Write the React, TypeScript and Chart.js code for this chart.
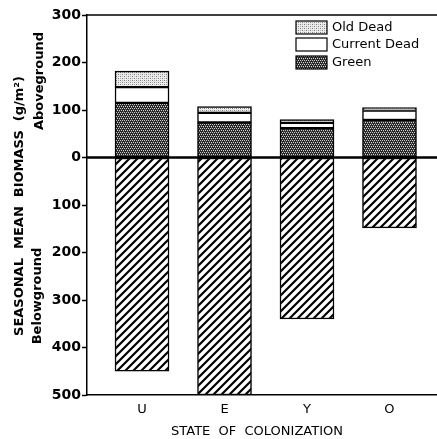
import React, { useEffect, useRef } from 'react';
import { Chart, registerables } from 'chart.js';

Chart.register(...registerables);

const categories = ['U', 'E', 'Y', 'O'];
const green = [115, 74, 62, 79];
const currentDead = [33, 20, 11, 20];
const oldDead = [34, 13, 7, 6];
const belowground = [-450, -500, -340, -148];
const legendOrder = ['Old Dead', 'Current Dead', 'Green'];
const yTitle = 'SEASONAL  MEAN  BIOMASS  (g/m²)';
const xTitle = 'STATE  OF  COLONIZATION';

function makePattern(kind: string): CanvasPattern | string {
  const c = document.createElement('canvas');
  const size = kind === 'hatch' ? 8 : 4;
  c.width = size;
  c.height = size;
  const g = c.getContext('2d')!;
  if (kind === 'green') {
    g.fillStyle = '#262626';
    g.fillRect(0, 0, 4, 4);
    g.fillStyle = '#d0d0d0';
    g.fillRect(0, 0, 1, 1);
    g.fillRect(2, 0, 1, 1);
    g.fillRect(1, 2, 1, 1);
    g.fillRect(3, 2, 1, 1);
    g.fillStyle = '#5a5a5a';
    g.fillRect(1, 1, 1, 1);
    g.fillRect(3, 3, 1, 1);
  } else if (kind === 'old') {
    g.fillStyle = '#ececec';
    g.fillRect(0, 0, 4, 4);
    g.fillStyle = '#7a7a7a';
    g.fillRect(0, 0, 1, 1);
    g.fillRect(2, 2, 1, 1);
    g.fillStyle = '#b0b0b0';
    g.fillRect(2, 0, 1, 1);
    g.fillRect(0, 2, 1, 1);
  } else if (kind === 'hatch') {
    g.fillStyle = '#fff';
    g.fillRect(0, 0, 8, 8);
    g.strokeStyle = '#000';
    g.lineWidth = 2.2;
    g.beginPath();
    g.moveTo(-2, 10); g.lineTo(10, -2);
    g.moveTo(-6, 6); g.lineTo(6, -6);
    g.moveTo(2, 14); g.lineTo(14, 2);
    g.stroke();
  }
  const p = g.createPattern(c, 'repeat');
  return p || '#888';
}

export default function App() {
  const ref = useRef<HTMLCanvasElement>(null);

  useEffect(() => {
    document.body.style.margin = '0';
    const pGreen = makePattern('green');
    const pOld = makePattern('old');
    const pHatch = makePattern('hatch');
    const fills: Record<string, any> = { 'Old Dead': pOld, 'Current Dead': '#fff', Green: pGreen };

    const pts = (arr: number[]) => arr.map((v, i) => ({ x: i, y: v }));

    const decor = {
      id: 'decor',
      afterDatasetsDraw(chart: any) {
        const { ctx, chartArea: a, scales } = chart;
        const y0 = scales.y.getPixelForValue(0);
        ctx.save();
        ctx.strokeStyle = '#000';
        ctx.lineWidth = 2.5;
        ctx.beginPath();
        ctx.moveTo(a.left, y0);
        ctx.lineTo(a.right, y0);
        ctx.stroke();
        ctx.lineWidth = 1.5;
        ctx.beginPath();
        ctx.moveTo(a.left, a.top);
        ctx.lineTo(a.right, a.top);
        ctx.stroke();

        // legend
        ctx.font = '13px "DejaVu Sans"';
        ctx.textBaseline = 'middle';
        ctx.textAlign = 'left';
        const rows = [21, 38, 56];
        legendOrder.forEach((name, i) => {
          const top = rows[i];
          ctx.fillStyle = fills[name];
          ctx.fillRect(296, top, 31, 13);
          ctx.lineWidth = 1.2;
          ctx.strokeRect(296, top, 31, 13);
          ctx.fillStyle = '#000';
          ctx.fillText(name, 332, top + 7);
        });

        // y titles
        ctx.fillStyle = '#000';
        ctx.textAlign = 'center';
        ctx.save();
        ctx.translate(20, 206);
        ctx.rotate(-Math.PI / 2);
        ctx.font = 'bold 13px "DejaVu Sans"';
        ctx.fillText(yTitle, 0, 0);
        ctx.restore();
        ctx.save();
        ctx.translate(40, 81);
        ctx.rotate(-Math.PI / 2);
        ctx.font = 'bold 13px "DejaVu Sans"';
        ctx.fillText('Aboveground', 0, 0);
        ctx.restore();
        ctx.save();
        ctx.translate(38, 296);
        ctx.rotate(-Math.PI / 2);
        ctx.font = 'bold 13px "DejaVu Sans"';
        ctx.fillText('Belowground', 0, 0);
        ctx.restore();

        // x title
        ctx.font = '13px "DejaVu Sans"';
        ctx.fillText(xTitle, 257, 432);
        ctx.restore();
      },
    };

    const common = { borderColor: '#000', borderWidth: 1.5, borderSkipped: false as const, barThickness: 54 };

    const chart = new Chart(ref.current!, {
      type: 'bar',
      data: {
        datasets: [
          { label: 'Green', data: pts(green), backgroundColor: pGreen as any, ...common },
          { label: 'Current Dead', data: pts(currentDead), backgroundColor: '#fff', ...common },
          { label: 'Old Dead', data: pts(oldDead), backgroundColor: pOld as any, ...common },
          { label: 'Belowground', data: pts(belowground), backgroundColor: pHatch as any, ...common },
        ],
      },
      options: {
        animation: false,
        responsive: true,
        maintainAspectRatio: false,
        layout: { padding: { top: 15, right: 0, left: 0, bottom: 0 } },
        plugins: { legend: { display: false }, tooltip: { enabled: false } },
        scales: {
          x: {
            type: 'linear',
            stacked: true,
            offset: false,
            min: -0.667,
            max: 3.576,
            afterBuildTicks: (s: any) => {
              s.ticks = categories.map((_, i) => ({ value: i }));
            },
            afterFit: (s: any) => {
              s.height = 44;
            },
            grid: { display: true, drawOnChartArea: false, drawTicks: false, offset: false },
            border: { display: true, color: '#000', width: 1.5 },
            ticks: {
              padding: 7,
              color: '#000',
              font: { family: 'DejaVu Sans', size: 13 },
              callback: (v: any) => categories[v] ?? '',
              maxRotation: 0,
              autoSkip: false,
            },
          },
          y: {
            type: 'linear',
            stacked: true,
            min: -500,
            max: 300,
            afterFit: (s: any) => {
              s.width = 87;
            },
            grid: { display: true, drawOnChartArea: false, drawTicks: true, tickLength: 5, color: '#000', tickWidth: 1.5 },
            border: { display: true, color: '#000', width: 1.5 },
            ticks: {
              stepSize: 100,
              padding: 1,
              color: '#000',
              font: { family: 'DejaVu Sans', size: 14, weight: 'bold' },
              callback: (v: any) => String(Math.abs(Number(v))),
            },
          },
        },
      },
      plugins: [decor],
    });
    return () => chart.destroy();
  }, []);

  return (
    <div style={{ width: 437, height: 439, position: 'relative' }}>
      <canvas ref={ref} />
    </div>
  );
}
